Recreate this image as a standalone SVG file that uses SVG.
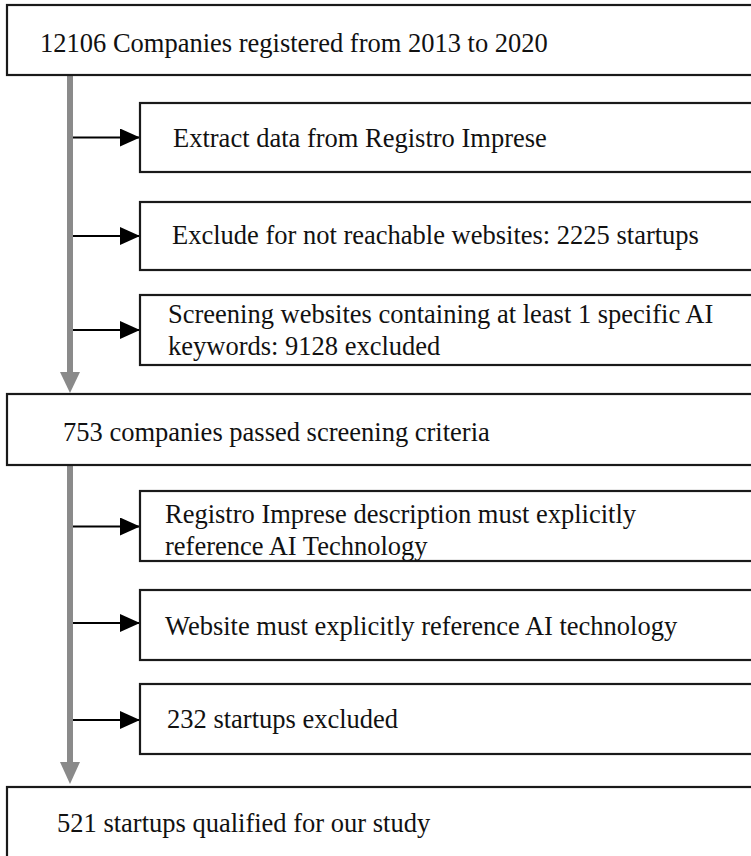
<svg xmlns="http://www.w3.org/2000/svg" width="751" height="856" viewBox="0 0 751 856">
<style>
.box{fill:#fff;stroke:#1a1a1a;stroke-width:2.2}
text{font-family:'Liberation Serif','Times New Roman',Times,serif;font-size:26.5px;fill:#111}
.trunk{stroke:#8a8a8a;stroke-width:6;fill:none}
.br{stroke:#000;stroke-width:2.2;fill:none}
</style>
<defs>
<marker id="ah" markerWidth="20" markerHeight="18" refX="20" refY="9" orient="auto" markerUnits="userSpaceOnUse">
<path d="M0,0 L20,9 L0,18 Z" fill="#000"/>
</marker>
</defs>
<rect width="751" height="856" fill="#fff"/>
<g id="connectors">
<line class="trunk" x1="70" y1="75" x2="70" y2="373"/>
<path d="M60,372 L80,372 L70,393 Z" fill="#8a8a8a"/>
<line class="trunk" x1="70" y1="465" x2="70" y2="763"/>
<path d="M60,762 L80,762 L70,784 Z" fill="#8a8a8a"/>
<line class="br" x1="73" y1="137.5" x2="140" y2="137.5" marker-end="url(#ah)"/>
<line class="br" x1="73" y1="236" x2="140" y2="236" marker-end="url(#ah)"/>
<line class="br" x1="73" y1="330" x2="140" y2="330" marker-end="url(#ah)"/>
<line class="br" x1="73" y1="526.5" x2="140" y2="526.5" marker-end="url(#ah)"/>
<line class="br" x1="73" y1="623" x2="140" y2="623" marker-end="url(#ah)"/>
<line class="br" x1="73" y1="720" x2="140" y2="720" marker-end="url(#ah)"/>
</g>
<g id="n1"><rect class="box" x="7" y="5" width="760" height="70"/><text x="40" y="52" font-family="Liberation Serif, serif">12106 Companies registered from 2013 to 2020</text></g>
<g id="n2"><rect class="box" x="140" y="103" width="630" height="69"/><text x="173" y="147">Extract data from Registro Imprese</text></g>
<g id="n3"><rect class="box" x="140" y="202" width="630" height="68"/><text x="172" y="244">Exclude for not reachable websites: 2225 startups</text></g>
<g id="n4"><rect class="box" x="140" y="295" width="630" height="70"/><text x="168" y="323">Screening websites containing at least 1 specific AI</text><text x="168" y="355">keywords: 9128 excluded</text></g>
<g id="n5"><rect class="box" x="7" y="394" width="760" height="71"/><text x="63" y="441">753 companies passed screening criteria</text></g>
<g id="n6"><rect class="box" x="140" y="491" width="630" height="70"/><text x="165" y="523">Registro Imprese description must explicitly</text><text x="165" y="555">reference AI Technology</text></g>
<g id="n7"><rect class="box" x="140" y="590" width="630" height="70"/><text x="165" y="635">Website must explicitly reference AI technology</text></g>
<g id="n8"><rect class="box" x="140" y="684" width="630" height="70"/><text x="167" y="728">232 startups excluded</text></g>
<g id="n9"><rect class="box" x="7" y="787" width="760" height="90"/><text x="57" y="832">521 startups qualified for our study</text></g>
</svg>
